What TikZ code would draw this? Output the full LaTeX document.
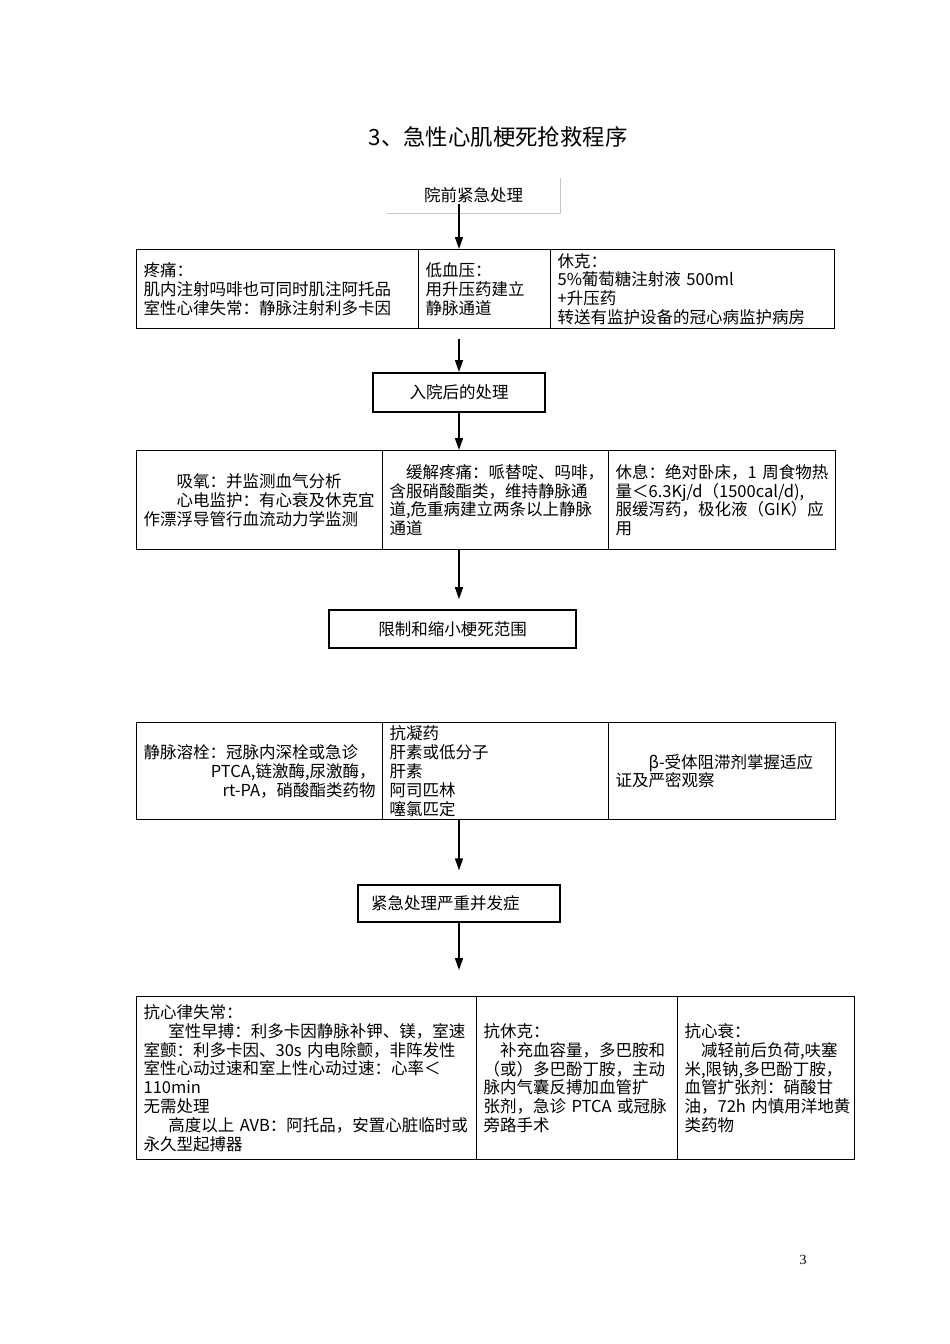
\documentclass[tikz,border=0pt]{standalone}
\usepackage{fontspec}
\usetikzlibrary{arrows.meta}
\newfontfamily\cjkfont{Noto Sans CJK SC}
\newfontfamily\numfont{Liberation Serif}
\newcommand{\bodyfont}{\cjkfont\fontsize{16.5}{18.8}\selectfont}
\begin{document}
\begin{tikzpicture}[x=1pt,y=-1pt,
		cell/.style={draw,line width=1.2pt,anchor=north west,inner xsep=7pt,inner ysep=0pt,align=left,font=\bodyfont},
		stage/.style={draw,line width=1.3pt,inner sep=0pt,font=\bodyfont},
		arr/.style={line width=1.5pt,-{Triangle[length=12pt,width=8pt]}}]
		\useasboundingbox (0,0) rectangle (950,1344);
		\node[font=\cjkfont\fontsize{22.4}{26}\selectfont] (title) at (498,137) {3、急性心肌梗死抢救程序};
		\node[font=\bodyfont,inner sep=0pt,minimum width=173pt,minimum height=35pt] (pre) at (473.5,195.5) {院前紧急处理};
		\draw[gray!45,line width=.6pt] (pre.north east)--(pre.south east)--(pre.south west);
		\node[cell,text width=268pt,minimum height=79pt] (pain) at (136,249) {疼痛：\\肌内注射吗啡也可同时肌注阿托品\\室性心律失常：静脉注射利多卡因};
		\node[cell,text width=118pt,minimum height=79pt] (lowbp) at (418,249) {低血压：\\用升压药建立\\静脉通道};
		\node[cell,text width=270pt,minimum height=79pt] (shock) at (550,249) {休克：\\5\%葡萄糖注射液~500ml\\+升压药\\转送有监护设备的冠心病监护病房};
		\node[stage,line width=2pt,minimum width=172pt,minimum height=39pt] (adm) at (459,392.5) {入院后的处理};
		\node[cell,text width=232pt,minimum height=99pt] (oxy) at (136,450) {\hspace*{2em}吸氧：并监测血气分析\\\hspace*{2em}心电监护：有心衰及休克宜\\作漂浮导管行血流动力学监测};
		\node[cell,text width=212pt,minimum height=99pt] (relief) at (382,450) {\hspace*{1em}缓解疼痛：哌替啶、吗啡，\\含服硝酸酯类，维持静脉通\\道,危重病建立两条以上静脉\\通道};
		\node[cell,text width=213pt,minimum height=99pt] (rest) at (608,450) {休息：绝对卧床，1~周食物热\\量＜6.3Kj/d（1500cal/d),\\服缓泻药，极化液（GIK）应\\用};
		\node[stage,line width=1.6pt,minimum width=247pt,minimum height=38pt] (limit) at (452.5,629) {限制和缩小梗死范围};
		\node[cell,text width=232pt,minimum height=97pt] (lysis) at (136,722) {静脉溶栓：冠脉内深栓或急诊\\\hfill PTCA,链激酶,尿激酶，\\\hfill rt-PA，硝酸酯类药物};
		\node[cell,text width=212pt,minimum height=97pt] (anticoag) at (382,722) {抗凝药\\肝素或低分子\\肝素\\阿司匹林\\噻氯匹定};
		\node[cell,text width=213pt,minimum height=97pt] (beta) at (608,722) {\hspace*{2em}β-受体阻滞剂掌握适应\\证及严密观察};
		\node[stage,text width=176pt,inner xsep=13pt,align=left,minimum height=37pt] (urgent) at (459,903.5) {紧急处理严重并发症};
		\node[cell,text width=326pt,minimum height=163pt] (arrh) at (136,996) {抗心律失常：\\\hspace*{1.5em}室性早搏：利多卡因静脉补钾、镁，室速\\室颤：利多卡因、30s~内电除颤，非阵发性\\室性心动过速和室上性心动过速：心率＜\\110min\\无需处理\\\hspace*{1.5em}高度以上~AVB：阿托品，安置心脏临时或\\永久型起搏器};
		\node[cell,text width=187pt,minimum height=163pt] (antishock) at (476,996) {抗休克：\\\hspace*{1em}补充血容量，多巴胺和\\（或）多巴酚丁胺，主动\\脉内气囊反搏加血管扩\\张剂，急诊~PTCA~或冠脉\\旁路手术};
		\node[cell,text width=163pt,minimum height=163pt] (antihf) at (677,996) {抗心衰：\\\hspace*{1em}减轻前后负荷,呋塞\\米,限钠,多巴酚丁胺，\\血管扩张剂：硝酸甘\\油，72h~内慎用洋地黄\\类药物};
		\node[font=\numfont\fontsize{14}{16}\selectfont] (page) at (803,1260) {3};
		\draw[arr] ([yshift=9pt]pre.south -| adm.north)--(adm.north |- pain.north);
		\draw[arr,shorten <=10pt] (adm.north |- pain.south)--(adm.north);
		\draw[arr] (adm.south)--(adm.south |- oxy.north);
		\draw[arr,shorten >=10pt] (adm.south |- oxy.south)--(limit.north -| adm.south);
		\draw[arr,shorten >=14pt] (adm.south |- lysis.south)--(urgent.north -| adm.south);
		\draw[arr,shorten >=26pt] (urgent.south -| adm.south)--(adm.south |- arrh.north);
	\end{tikzpicture}
\end{document}
